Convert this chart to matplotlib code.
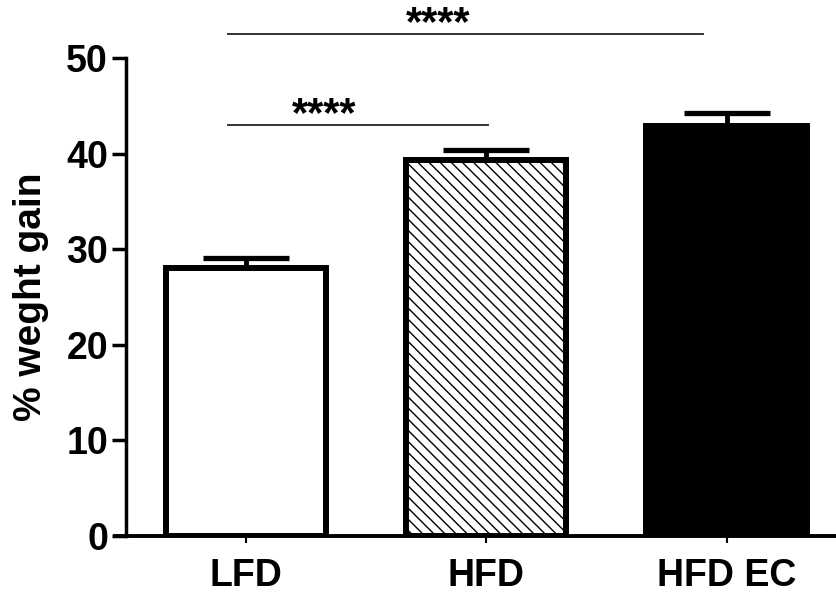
import matplotlib
matplotlib.use("Agg")
import matplotlib.pyplot as plt

groups = ["LFD", "HFD", "HFD EC"]
means = [28.0, 39.3, 42.9]
sems = [1.1, 1.1, 1.3]
faces = ["white", "white", "black"]
hatches = [None, "\\\\\\", None]

# significance brackets: (x start, x end, y, label x, label y)
sig_lines = [(-0.075, 1.008, 43.0, 0.325, 42.9, "****"),
             (-0.075, 1.904, 52.5, 0.80, 52.4, "****")]

plt.rcParams["font.family"] = ["Liberation Sans", "DejaVu Sans"]
plt.rcParams["font.weight"] = "bold"
plt.rcParams["axes.labelweight"] = "bold"
plt.rcParams["hatch.linewidth"] = 1.0

fig = plt.figure(figsize=(8.37, 5.93), dpi=100)
ax = fig.add_axes([126 / 837, 57 / 593, 1 - 126 / 837, 478 / 593])

x = list(range(len(groups)))
ax.bar(x, means, width=0.667, color=faces, edgecolor="black",
       linewidth=4.3, hatch=hatches, zorder=2)
ax.errorbar(x, means, yerr=[[0] * 3, sems], fmt="none", ecolor="black",
            elinewidth=3.5, capsize=31, capthick=3.8, zorder=1)

ax.set_xlim(-0.5, 2.46)
ax.set_ylim(0, 50)
ax.set_yticks([0, 10, 20, 30, 40, 50])
ax.set_xticks(x)
ax.set_xticklabels(groups)
ax.tick_params(axis="y", length=10, width=2.5, labelsize=27, pad=3)
ax.tick_params(axis="x", length=5, width=1.5, labelsize=27, pad=11)
for s in ["top", "right", "bottom"]:
    ax.spines[s].set_visible(False)
ax.spines["left"].set_linewidth(2.5)

# x axis line runs past the y axis, like the original
ax.plot([-0.555, 2.46], [0, 0], color="black", lw=2.8, clip_on=False,
        solid_capstyle="butt", zorder=3)

ax.set_ylabel("% weght gain", fontsize=28, labelpad=12)

for x0, x1, y, tx, ty, lab in sig_lines:
    ax.plot([x0, x1], [y, y], color="#333333", lw=1.4, clip_on=False)
    ax.text(tx, ty, lab, ha="center", va="baseline", fontsize=30,
            clip_on=False)

fig.savefig("out.png", dpi=100)
